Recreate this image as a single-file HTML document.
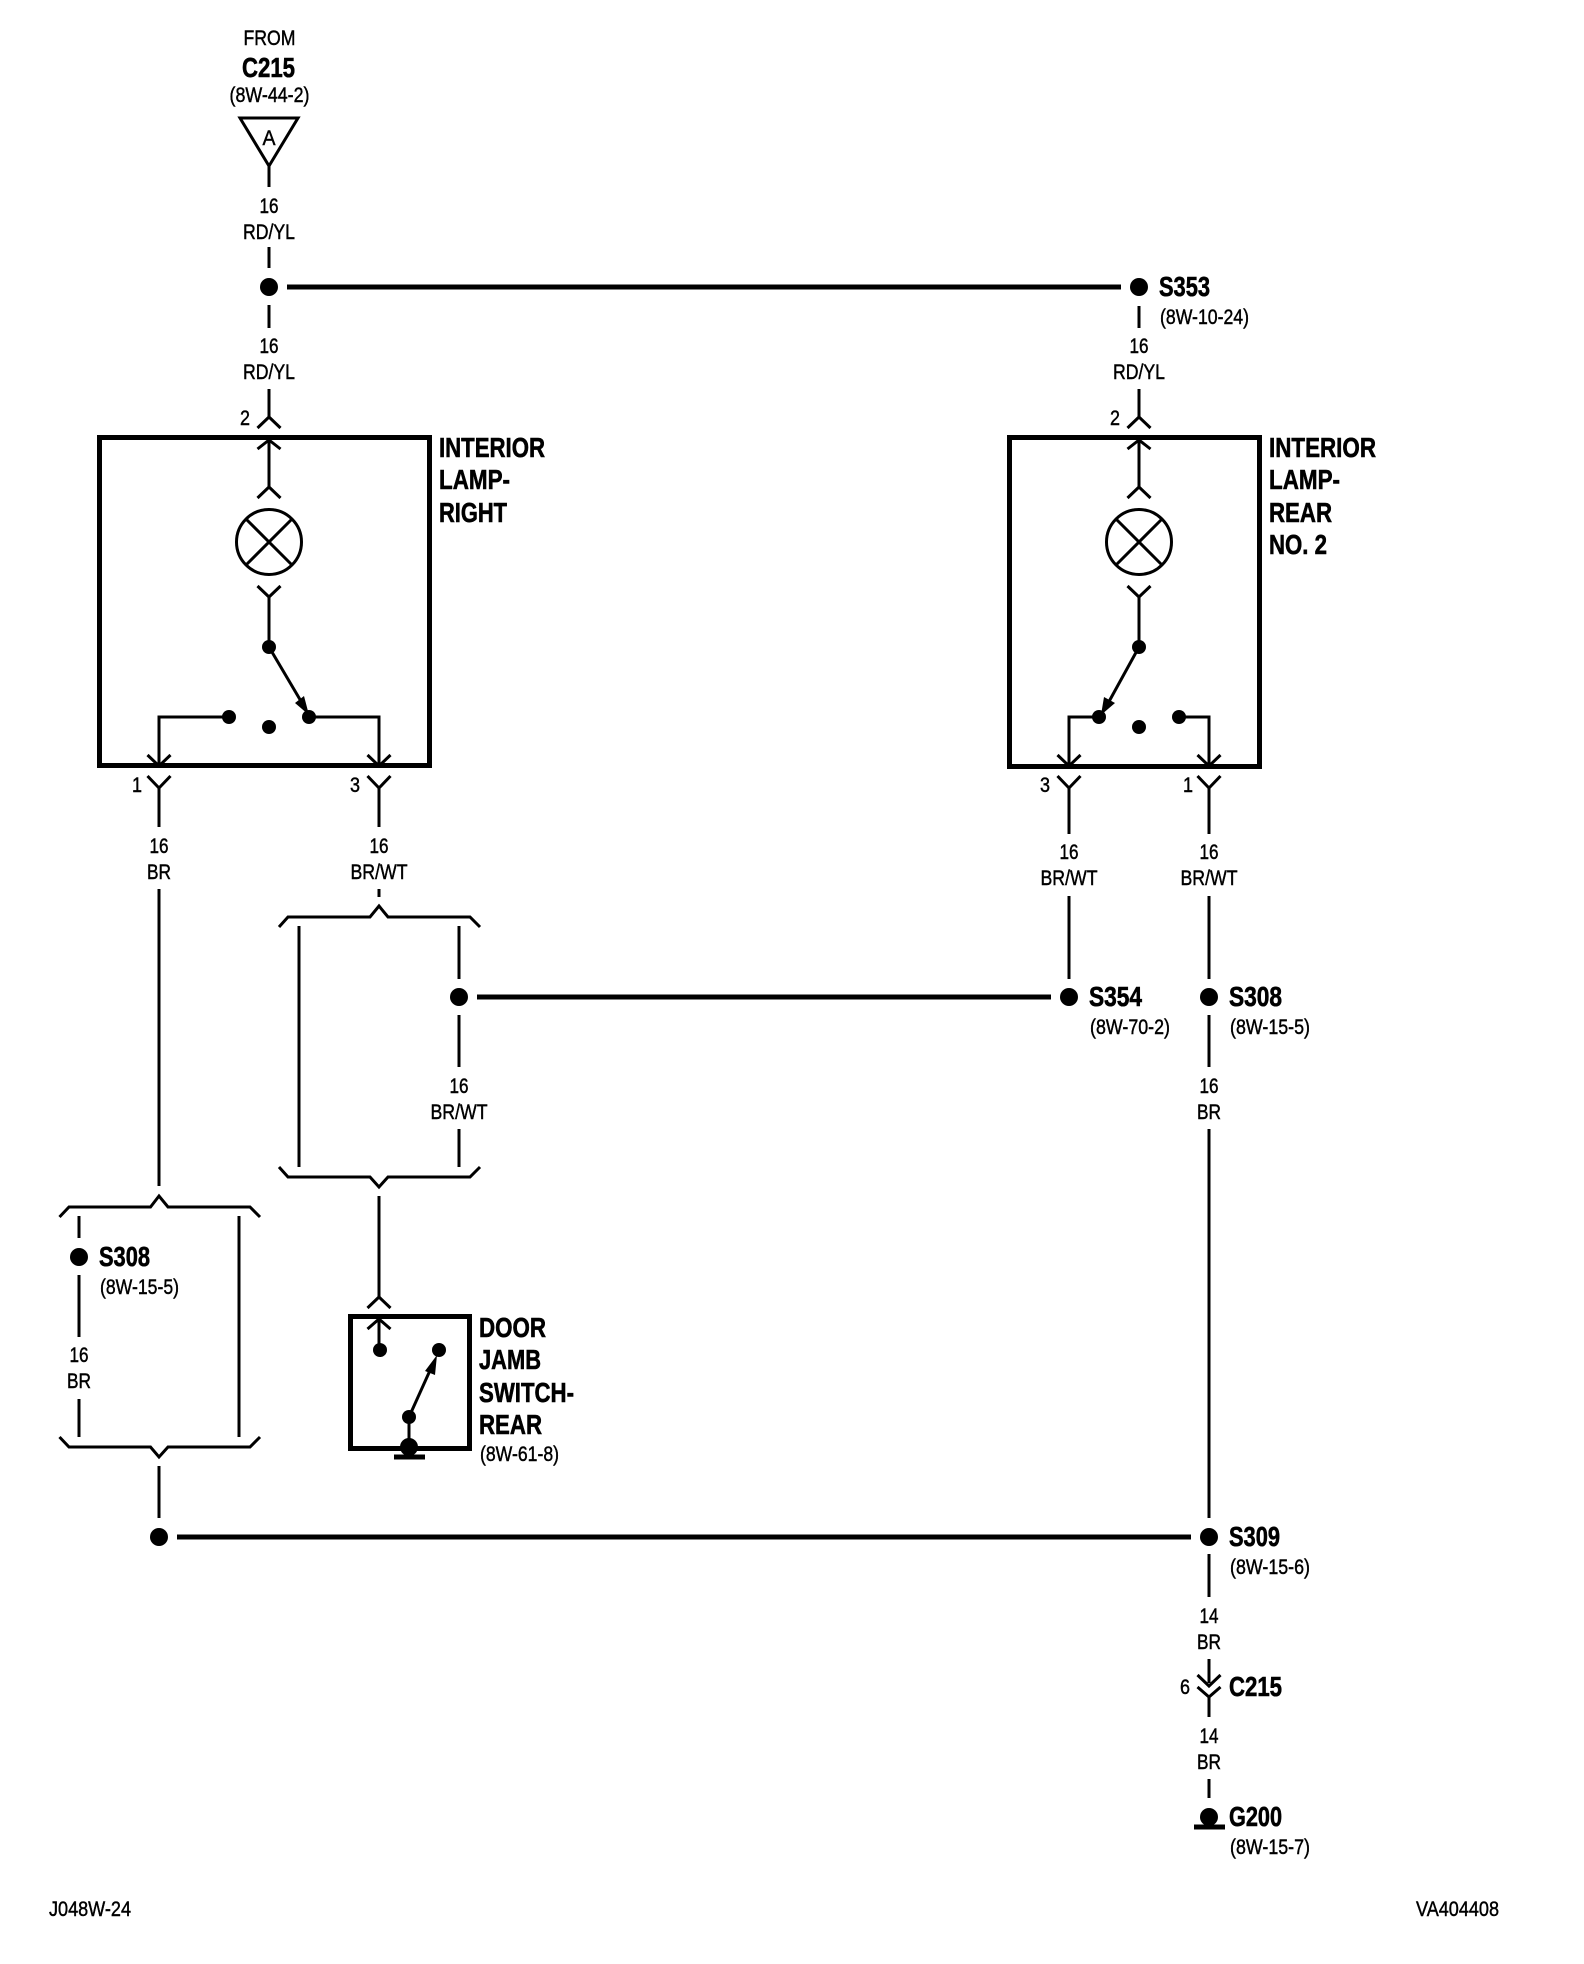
<!DOCTYPE html>
<html><head><meta charset="utf-8"><style>
html,body{margin:0;padding:0;background:#fff}
svg{display:block}
text{font-family:"Liberation Sans",sans-serif;fill:#000;stroke:#000}
.r{font-size:21px;stroke-width:.45px;transform:translate(0,-1px)}
.b{font-size:28px;font-weight:bold;stroke-width:.6px;transform:translate(-1px,-1px)}
.c{font-size:21px;text-anchor:middle;stroke-width:.45px;transform:translate(0,-1px)}
.w{stroke:#000;stroke-width:3;fill:none}
.h{stroke:#000;stroke-width:5;fill:none}
.bx{stroke:#000;stroke-width:5;fill:none}
</style></head><body>
<svg width="1584" height="1964" viewBox="0 0 1584 1964" xmlns="http://www.w3.org/2000/svg">
<rect width="1584" height="1964" fill="#fff"/>
<!-- top -->
<text class="c" x="269.5" y="46" textLength="52" lengthAdjust="spacingAndGlyphs">FROM</text>
<text class="b" x="243" y="78" textLength="53" lengthAdjust="spacingAndGlyphs">C215</text>
<text class="c" x="269.5" y="103" textLength="80" lengthAdjust="spacingAndGlyphs">(8W-44-2)</text>
<polygon class="w" points="240,118 298,118 269,166"/>
<text class="c" x="269" y="146" textLength="13" lengthAdjust="spacingAndGlyphs">A</text>
<path class="w" d="M269 166V187M269 247V268M269 305V328M269 389V417"/>
<text class="c" x="269" y="214" textLength="19" lengthAdjust="spacingAndGlyphs">16</text>
<text class="c" x="269" y="240" textLength="52" lengthAdjust="spacingAndGlyphs">RD/YL</text>
<circle cx="269" cy="287" r="9"/>
<path class="h" d="M287 287H1121"/>
<text class="c" x="269" y="354" textLength="19" lengthAdjust="spacingAndGlyphs">16</text>
<text class="c" x="269" y="380" textLength="52" lengthAdjust="spacingAndGlyphs">RD/YL</text>
<text class="c" x="245" y="426" textLength="10" lengthAdjust="spacingAndGlyphs">2</text>
<polyline class="w" points="257.5,428 269,417 280.5,428"/>
<!-- left lamp box -->
<rect class="bx" x="99.5" y="437.5" width="330" height="328"/>
<polyline class="w" points="257.5,449 269,440 280.5,449"/>
<path class="w" d="M269 440V487"/>
<polyline class="w" points="257.5,498 269,487 280.5,498"/>
<circle class="w" cx="269" cy="542" r="32.5"/>
<path class="w" d="M246 519L292 565M292 519L246 565"/>
<polyline class="w" points="257.5,586 269,597 280.5,586"/>
<path class="w" d="M269 597V647"/>
<circle cx="269" cy="647" r="7"/>
<path class="w" d="M269 647L305 708"/>
<polygon points="309,715 295,703 304,696"/>
<circle cx="309" cy="717" r="7"/>
<circle cx="229" cy="717" r="7"/>
<circle cx="269" cy="727" r="7"/>
<path class="w" d="M229 717H159V766M309 717H379V766"/>
<polyline class="w" points="147.5,755 159,766 170.5,755"/>
<polyline class="w" points="367.5,755 379,766 390.5,755"/>
<polyline class="w" points="147.5,776 159,788 170.5,776"/>
<polyline class="w" points="367.5,776 379,788 390.5,776"/>
<path class="w" d="M159 788V827M379 788V827"/>
<text class="c" x="137" y="793" textLength="10" lengthAdjust="spacingAndGlyphs">1</text>
<text class="c" x="355" y="793" textLength="10" lengthAdjust="spacingAndGlyphs">3</text>
<text class="b" x="440" y="458" textLength="106" lengthAdjust="spacingAndGlyphs">INTERIOR</text>
<text class="b" x="440" y="490" textLength="71" lengthAdjust="spacingAndGlyphs">LAMP-</text>
<text class="b" x="440" y="523" textLength="68" lengthAdjust="spacingAndGlyphs">RIGHT</text>
<text class="c" x="159" y="854" textLength="19" lengthAdjust="spacingAndGlyphs">16</text>
<text class="c" x="159" y="880" textLength="24" lengthAdjust="spacingAndGlyphs">BR</text>
<text class="c" x="379" y="854" textLength="19" lengthAdjust="spacingAndGlyphs">16</text>
<text class="c" x="379" y="880" textLength="57" lengthAdjust="spacingAndGlyphs">BR/WT</text>
<path class="w" d="M379 889V897M159 889V1186"/>
<!-- middle brace -->
<polyline class="w" points="279,927 288,917 370,917 379,906 388,917 470,917 480,927"/>
<polyline class="w" points="279,1167 288,1177 370,1177 379,1187 388,1177 470,1177 480,1167"/>
<path class="w" d="M299 926V1167M459 926V979M459 1015V1067M459 1129V1167"/>
<circle cx="459" cy="997" r="9"/>
<path class="h" d="M477 997H1051"/>
<text class="c" x="459" y="1094" textLength="19" lengthAdjust="spacingAndGlyphs">16</text>
<text class="c" x="459" y="1120" textLength="57" lengthAdjust="spacingAndGlyphs">BR/WT</text>
<path class="w" d="M379 1196V1297"/>
<polyline class="w" points="367.5,1308 379,1297 390.5,1308"/>
<!-- door jamb -->
<rect class="bx" x="350.5" y="1316.5" width="119" height="132"/>
<polyline class="w" points="367.5,1329 379,1319 390.5,1329"/>
<path class="w" d="M379 1319V1350"/>
<circle cx="380" cy="1350" r="7"/>
<circle cx="439" cy="1350" r="7"/>
<circle cx="409" cy="1417" r="7"/>
<path class="w" d="M409 1417L432 1366"/>
<polygon points="437,1355 435,1375 425,1371"/>
<path class="w" d="M409 1417V1447"/>
<circle cx="409" cy="1447" r="9"/>
<path class="h" d="M394 1457H425"/>
<text class="b" x="480" y="1338" textLength="67" lengthAdjust="spacingAndGlyphs">DOOR</text>
<text class="b" x="480" y="1370" textLength="62" lengthAdjust="spacingAndGlyphs">JAMB</text>
<text class="b" x="480" y="1403" textLength="95" lengthAdjust="spacingAndGlyphs">SWITCH-</text>
<text class="b" x="480" y="1435" textLength="63" lengthAdjust="spacingAndGlyphs">REAR</text>
<text class="r" x="480" y="1462" textLength="79" lengthAdjust="spacingAndGlyphs">(8W-61-8)</text>
<!-- left brace -->
<polyline class="w" points="59.5,1217 69,1207 150.5,1207 159,1196 168,1207 250,1207 260,1217"/>
<polyline class="w" points="59.5,1437 69,1447 150.5,1447 159,1457 168,1447 250,1447 260,1437"/>
<path class="w" d="M79 1216V1238M79 1275V1337M79 1399V1437M239 1216V1437M159 1466V1518"/>
<circle cx="79" cy="1257" r="9"/>
<text class="b" x="100" y="1267" textLength="51" lengthAdjust="spacingAndGlyphs">S308</text>
<text class="r" x="100" y="1295" textLength="79" lengthAdjust="spacingAndGlyphs">(8W-15-5)</text>
<text class="c" x="79" y="1363" textLength="19" lengthAdjust="spacingAndGlyphs">16</text>
<text class="c" x="79" y="1389" textLength="24" lengthAdjust="spacingAndGlyphs">BR</text>
<circle cx="159" cy="1537" r="9"/>
<path class="h" d="M177 1537H1191"/>
<!-- right top -->
<circle cx="1139" cy="287" r="9"/>
<text class="b" x="1160" y="297" textLength="51" lengthAdjust="spacingAndGlyphs">S353</text>
<text class="r" x="1160" y="325" textLength="89" lengthAdjust="spacingAndGlyphs">(8W-10-24)</text>
<path class="w" d="M1139 306V328M1139 389V417"/>
<text class="c" x="1139" y="354" textLength="19" lengthAdjust="spacingAndGlyphs">16</text>
<text class="c" x="1139" y="380" textLength="52" lengthAdjust="spacingAndGlyphs">RD/YL</text>
<text class="c" x="1115" y="426" textLength="10" lengthAdjust="spacingAndGlyphs">2</text>
<polyline class="w" points="1127.5,428 1139,417 1150.5,428"/>
<!-- right lamp box -->
<rect class="bx" x="1009.5" y="437.5" width="250" height="329"/>
<polyline class="w" points="1127.5,449 1139,440 1150.5,449"/>
<path class="w" d="M1139 440V487"/>
<polyline class="w" points="1127.5,498 1139,487 1150.5,498"/>
<circle class="w" cx="1139" cy="542" r="32.5"/>
<path class="w" d="M1116 519L1162 565M1162 519L1116 565"/>
<polyline class="w" points="1127.5,586 1139,597 1150.5,586"/>
<path class="w" d="M1139 597V647"/>
<circle cx="1139" cy="647" r="7"/>
<path class="w" d="M1139 647L1106 707"/>
<polygon points="1101,715 1104,697 1115,703"/>
<circle cx="1099" cy="717" r="7"/>
<circle cx="1139" cy="727" r="7"/>
<circle cx="1179" cy="717" r="7"/>
<path class="w" d="M1099 717H1069V766M1179 717H1209V766"/>
<polyline class="w" points="1057.5,755 1069,766 1080.5,755"/>
<polyline class="w" points="1197.5,755 1209,766 1220.5,755"/>
<polyline class="w" points="1057.5,776 1069,788 1080.5,776"/>
<polyline class="w" points="1197.5,776 1209,788 1220.5,776"/>
<path class="w" d="M1069 788V834M1209 788V834"/>
<text class="c" x="1045" y="793" textLength="10" lengthAdjust="spacingAndGlyphs">3</text>
<text class="c" x="1188" y="793" textLength="10" lengthAdjust="spacingAndGlyphs">1</text>
<text class="b" x="1270" y="458" textLength="107" lengthAdjust="spacingAndGlyphs">INTERIOR</text>
<text class="b" x="1270" y="490" textLength="71" lengthAdjust="spacingAndGlyphs">LAMP-</text>
<text class="b" x="1270" y="523" textLength="63" lengthAdjust="spacingAndGlyphs">REAR</text>
<text class="b" x="1270" y="555" textLength="58" lengthAdjust="spacingAndGlyphs">NO. 2</text>
<text class="c" x="1069" y="860" textLength="19" lengthAdjust="spacingAndGlyphs">16</text>
<text class="c" x="1069" y="886" textLength="57" lengthAdjust="spacingAndGlyphs">BR/WT</text>
<text class="c" x="1209" y="860" textLength="19" lengthAdjust="spacingAndGlyphs">16</text>
<text class="c" x="1209" y="886" textLength="57" lengthAdjust="spacingAndGlyphs">BR/WT</text>
<path class="w" d="M1069 896V979M1209 896V979M1209 1015V1067M1209 1129V1518"/>
<circle cx="1069" cy="997" r="9"/>
<circle cx="1209" cy="997" r="9"/>
<text class="b" x="1090" y="1007" textLength="53" lengthAdjust="spacingAndGlyphs">S354</text>
<text class="r" x="1090" y="1035" textLength="80" lengthAdjust="spacingAndGlyphs">(8W-70-2)</text>
<text class="b" x="1230" y="1007" textLength="53" lengthAdjust="spacingAndGlyphs">S308</text>
<text class="r" x="1230" y="1035" textLength="80" lengthAdjust="spacingAndGlyphs">(8W-15-5)</text>
<text class="c" x="1209" y="1094" textLength="19" lengthAdjust="spacingAndGlyphs">16</text>
<text class="c" x="1209" y="1120" textLength="24" lengthAdjust="spacingAndGlyphs">BR</text>
<!-- bottom -->
<circle cx="1209" cy="1537" r="9"/>
<text class="b" x="1230" y="1547" textLength="51" lengthAdjust="spacingAndGlyphs">S309</text>
<text class="r" x="1230" y="1575" textLength="80" lengthAdjust="spacingAndGlyphs">(8W-15-6)</text>
<path class="w" d="M1209 1554V1597M1209 1659V1683"/>
<text class="c" x="1209" y="1624" textLength="19" lengthAdjust="spacingAndGlyphs">14</text>
<text class="c" x="1209" y="1650" textLength="24" lengthAdjust="spacingAndGlyphs">BR</text>
<polyline class="w" points="1197.5,1675 1209,1686 1220.5,1675"/>
<polyline class="w" points="1197.5,1687 1209,1697 1220.5,1687"/>
<path class="w" d="M1209 1697V1717"/>
<text class="c" x="1185" y="1695" textLength="10" lengthAdjust="spacingAndGlyphs">6</text>
<text class="b" x="1230" y="1697" textLength="53" lengthAdjust="spacingAndGlyphs">C215</text>
<text class="c" x="1209" y="1744" textLength="19" lengthAdjust="spacingAndGlyphs">14</text>
<text class="c" x="1209" y="1770" textLength="24" lengthAdjust="spacingAndGlyphs">BR</text>
<path class="w" d="M1209 1779V1798"/>
<circle cx="1209" cy="1817" r="9"/>
<path class="h" d="M1194 1827H1225"/>
<text class="b" x="1230" y="1827" textLength="53" lengthAdjust="spacingAndGlyphs">G200</text>
<text class="r" x="1230" y="1855" textLength="80" lengthAdjust="spacingAndGlyphs">(8W-15-7)</text>
<text class="r" x="49" y="1917" textLength="82" lengthAdjust="spacingAndGlyphs">J048W-24</text>
<text class="r" x="1416" y="1917" textLength="83" lengthAdjust="spacingAndGlyphs">VA404408</text>
</svg>
</body></html>
